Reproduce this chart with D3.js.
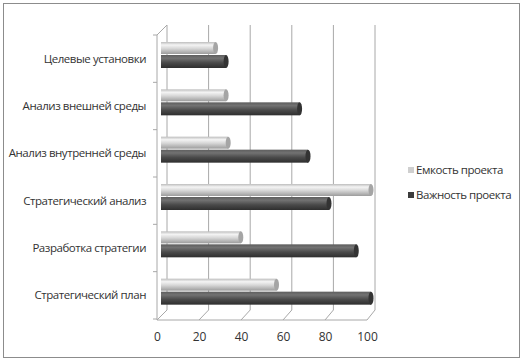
<!DOCTYPE html>
<html>
<head>
<meta charset="utf-8">
<script src="https://cdn.jsdelivr.net/npm/d3@7"></script>
<style>
  body { margin: 0; background: #fff; }
  text { font-family: 'Open Sans', sans-serif; fill: #333; }
</style>
</head>
<body>
<div class="chart"></div>
<script>
// Data
const categories = [
    'Целевые установки',
    'Анализ внешней среды',
    'Анализ внутренней среды',
    'Стратегический анализ',
    'Разработка стратегии',
    'Стратегический план'
];
const capacity = [26, 31, 32, 100, 38, 55];     // Емкость проекта
const importance = [31, 66, 70, 80, 93, 100];   // Важность проекта
const seriesNames = ['Емкость проекта', 'Важность проекта'];
const xTicks = [0, 20, 40, 60, 80, 100];

const svgWidth = 524;
const svgHeight = 364;

const svg = d3.select('.chart')
    .append('svg')
    .attr('width', svgWidth)
    .attr('height', svgHeight);

// Gradients for the cylinder look
const defs = svg.append('defs');
function cylGradient(id, stops) {
    const g = defs.append('linearGradient')
        .attr('id', id)
        .attr('x1', 0).attr('y1', 0).attr('x2', 0).attr('y2', 1);
    stops.forEach(s => g.append('stop').attr('offset', s[0]).attr('stop-color', s[1]));
}
cylGradient('lightGrad', [[0, '#bdbdbd'], [0.25, '#f4f4f4'], [0.55, '#d6d6d6'], [1, '#9c9c9c']]);
cylGradient('darkGrad', [[0, '#5e5e5e'], [0.25, '#727272'], [0.6, '#4a4a4a'], [1, '#2e2e2e']]);

// Outer frame
svg.append('rect')
    .attr('x', 3.5).attr('y', 3.5)
    .attr('width', 516).attr('height', 354)
    .attr('fill', 'none')
    .attr('stroke', '#8c8c8c');

// Scales: back wall, front floor edge, and bars at mid depth
const xBack = d3.scaleLinear().domain([0, 100]).range([167, 375]);
const xFront = d3.scaleLinear().domain([0, 100]).range([157, 367]);
const xBar = d3.scaleLinear().domain([0, 100]).range([161, 371]);
const yScale = d3.scaleBand().domain(categories).range([35, 319]);

const wallTop = 25, wallBottom = 310, frontBottom = 320;

const grid = svg.append('g').attr('stroke', '#a8a8a8').attr('fill', 'none');

// Back wall gridlines
grid.selectAll('.vgrid')
    .data(xTicks)
    .join('line')
    .attr('x1', d => xBack(d)).attr('x2', d => xBack(d))
    .attr('y1', wallTop).attr('y2', wallBottom);

// Floor diagonals
grid.selectAll('.floor')
    .data(xTicks)
    .join('line')
    .attr('x1', d => xBack(d)).attr('y1', wallBottom)
    .attr('x2', d => xFront(d)).attr('y2', frontBottom);

// Floor front edge
grid.append('line')
    .attr('x1', xFront(0)).attr('x2', xFront(100))
    .attr('y1', frontBottom).attr('y2', frontBottom);

// Left side wall
grid.append('line')
    .attr('x1', xFront(0)).attr('x2', xFront(0))
    .attr('y1', wallTop + 10).attr('y2', frontBottom);
grid.append('line')
    .attr('x1', xFront(0)).attr('y1', wallTop + 10)
    .attr('x2', xBack(0)).attr('y2', wallTop);

// Category ticks on the left wall
const boundaries = categories.map(c => yScale(c)).concat([yScale.range()[1]]);
grid.selectAll('.ytick')
    .data(boundaries)
    .join('line')
    .attr('x1', xFront(0) - 4).attr('x2', xFront(0))
    .attr('y1', d => d).attr('y2', d => d);

// Bars
const bandOffsets = [{ y: 7, h: 12, grad: 'lightGrad', cap: '#a5a5a5', vals: capacity },
                     { y: 20, h: 13, grad: 'darkGrad', cap: '#333', vals: importance }];

bandOffsets.forEach(s => {
    const g = svg.append('g');
    const data = categories.map((c, i) => ({ cat: c, value: s.vals[i] }));
    g.selectAll('rect')
        .data(data)
        .join('rect')
        .attr('x', xBar(0))
        .attr('y', d => yScale(d.cat) + s.y)
        .attr('width', d => xBar(d.value) - xBar(0))
        .attr('height', s.h)
        .attr('fill', 'url(#' + s.grad + ')');
    g.selectAll('ellipse')
        .data(data)
        .join('ellipse')
        .attr('cx', d => xBar(d.value))
        .attr('cy', d => yScale(d.cat) + s.y + s.h / 2)
        .attr('rx', 2.5)
        .attr('ry', s.h / 2)
        .attr('fill', s.cap);
});

// Category labels
svg.append('g')
    .selectAll('text')
    .data(categories)
    .join('text')
    .attr('x', 146)
    .attr('y', d => yScale(d) + yScale.bandwidth() / 2)
    .attr('dy', '0.35em')
    .attr('text-anchor', 'end')
    .style('font-size', '11.5px')
    .style('letter-spacing', '-0.45px')
    .text(d => d);

// X tick labels
const xAxis = d3.axisBottom(xFront)
    .tickValues(xTicks)
    .tickSize(0)
    .tickPadding(0);
const xAxisDraw = svg.append('g')
    .attr('transform', 'translate(0, 332)');
xAxis(xAxisDraw);
xAxisDraw.select('.domain').remove();
xAxisDraw.selectAll('text')
    .style('font-size', '12px')
    .style('font-family', "'Open Sans', sans-serif")
    .attr('fill', '#333');

// Legend
const legendColors = ['#cfcfcf', '#3c3c3c'];
const legend = svg.append('g');
seriesNames.forEach((name, i) => {
    const y = 170 + i * 25;
    legend.append('rect')
        .attr('x', 408).attr('y', y - 3)
        .attr('width', 6).attr('height', 6)
        .attr('fill', legendColors[i]);
    legend.append('text')
        .attr('x', 416).attr('y', y)
        .attr('dy', '0.35em')
        .style('font-size', '11.5px')
        .style('letter-spacing', '-0.45px')
        .text(name);
});
</script>
</body>
</html>
